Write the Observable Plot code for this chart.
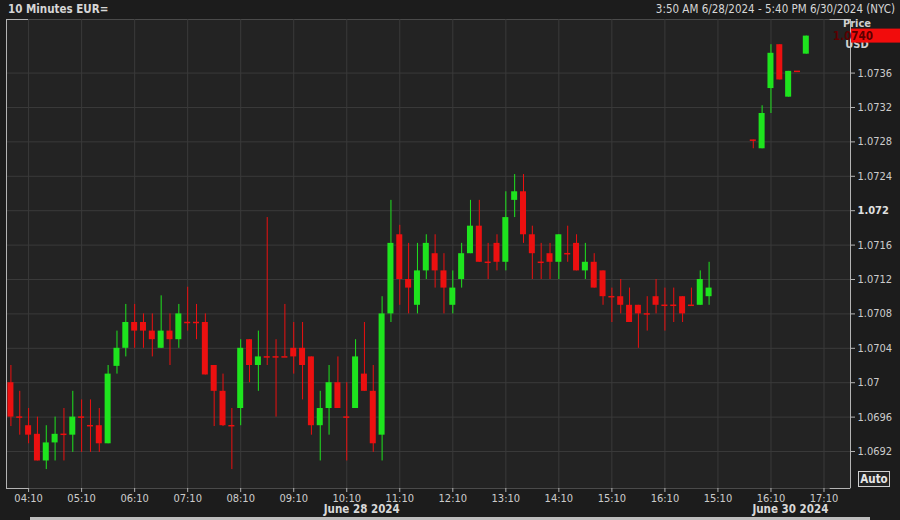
<!DOCTYPE html>
<html><head><meta charset="utf-8">
<script src="https://cdn.jsdelivr.net/npm/d3@7"></script>
<script src="https://cdn.jsdelivr.net/npm/@observablehq/plot@0.6"></script>
<style>
html,body{margin:0;padding:0;background:#1c1c1c;}
#wrap{position:relative;width:900px;height:520px;overflow:hidden;font-family:"DejaVu Sans Condensed","DejaVu Sans",sans-serif;}
#hdr{height:18px;position:relative;color:#d6d6d6;font-size:11.5px;}
#title{position:absolute;left:8px;top:2px;font-weight:bold;}
#range{position:absolute;right:5px;top:2px;}
#chart svg{display:block;}
#scroll{position:absolute;left:30px;bottom:0;width:840px;height:3px;background:#bdbdbd;}
</style></head>
<body><div id="wrap"><div id="hdr"><span id="title">10 Minutes EUR=</span><span id="range">3:50 AM 6/28/2024 - 5:40 PM 6/30/2024 (NYC)</span></div><div id="chart"></div><div id="scroll"></div></div>
<script>
// 10-minute slot index (0 = 03:50 June 28; slot 80 = 15:10 June 30)
const slot = [0,1,2,3,4,5,6,7,8,9,10,11,12,13,14,15,16,17,18,19,20,21,22,23,24,25,26,27,28,29,30,31,32,33,34,35,36,37,38,39,40,41,42,43,44,45,46,47,48,49,50,51,52,53,54,55,56,57,58,59,60,61,62,63,64,65,66,67,68,69,70,71,72,73,74,75,76,77,78,79,84,85,86,87,88,89,90];
const open = [1.0700,1.0696,1.0695,1.0694,1.06909,1.0693,1.0694,1.06939,1.0696,1.0695,1.0695,1.06929,1.07019,1.0704,1.0707,1.0707,1.0706,1.0704,1.0706,1.0705,1.0707,1.0707,1.0707,1.0702,1.0699,1.0695,1.0697,1.0705,1.0702,1.0703,1.0703,1.0703,1.0704,1.0704,1.0703,1.0695,1.0697,1.0700,1.0696,1.0697,1.0701,1.0699,1.06939,1.0708,1.07172,1.0712,1.0709,1.0713,1.0715,1.0713,1.0709,1.0712,1.0715,1.07182,1.0714,1.07162,1.0714,1.07212,1.07222,1.07172,1.0714,1.0715,1.0714,1.0715,1.07162,1.0713,1.0714,1.0713,1.0710,1.0710,1.0709,1.0709,1.0708,1.0710,1.0709,1.0709,1.0710,1.0709,1.0709,1.0710,1.07282,1.07272,1.07342,1.07393,1.07332,1.07362,1.07382];
const high = [1.0702,1.0699,1.0697,1.0696,1.0695,1.0696,1.0697,1.0699,1.0698,1.0698,1.0697,1.0702,1.0706,1.07091,1.07091,1.0708,1.0708,1.07101,1.0708,1.07091,1.07111,1.07091,1.0708,1.0702,1.0701,1.0697,1.0705,1.0705,1.0706,1.07192,1.0705,1.07091,1.0707,1.0707,1.0703,1.0699,1.0702,1.0703,1.0700,1.0705,1.0707,1.0702,1.0710,1.07212,1.07183,1.07162,1.07162,1.07172,1.07172,1.0715,1.0713,1.07162,1.07212,1.07212,1.07162,1.07172,1.07222,1.07242,1.07242,1.07182,1.07162,1.07162,1.07172,1.07182,1.07172,1.07162,1.0715,1.0713,1.0711,1.0712,1.0711,1.0709,1.0710,1.0712,1.0711,1.0711,1.0710,1.0711,1.0713,1.0714,1.07282,1.07322,1.07393,1.07393,1.07362,1.07362,1.07403];
const low = [1.06949,1.06939,1.06929,1.06909,1.06899,1.06909,1.06909,1.06919,1.06919,1.06919,1.06919,1.06929,1.0701,1.0703,1.0704,1.0704,1.0703,1.0704,1.0702,1.0704,1.0706,1.0705,1.07009,1.06949,1.06949,1.06899,1.0695,1.0700,1.0699,1.0702,1.0696,1.0703,1.0701,1.0698,1.06939,1.06909,1.06939,1.0697,1.06909,1.0697,1.0699,1.06919,1.06909,1.0707,1.0709,1.0708,1.0708,1.0712,1.0711,1.0708,1.0708,1.0711,1.0715,1.0714,1.0712,1.0713,1.0713,1.07192,1.07162,1.0712,1.0712,1.0712,1.0712,1.0714,1.0713,1.0712,1.0711,1.0709,1.0707,1.0708,1.0707,1.0704,1.0706,1.0708,1.0706,1.0707,1.0707,1.0709,1.0709,1.0709,1.07272,1.07272,1.07313,1.07352,1.07332,1.07362,1.07382];
const close = [1.0696,1.0696,1.06939,1.06909,1.0693,1.0694,1.0694,1.0696,1.0696,1.0695,1.06929,1.0701,1.0704,1.0707,1.0706,1.0706,1.0705,1.0706,1.0705,1.0708,1.0707,1.0707,1.07009,1.0699,1.0695,1.0695,1.0704,1.0702,1.0703,1.0703,1.0703,1.0703,1.0703,1.0702,1.0695,1.0697,1.0700,1.0697,1.0696,1.0703,1.0699,1.06929,1.0708,1.07162,1.0712,1.0711,1.0713,1.07162,1.0713,1.0711,1.0711,1.0715,1.07182,1.0714,1.0714,1.0714,1.07192,1.07222,1.07172,1.0715,1.0714,1.0714,1.07172,1.0715,1.0713,1.0714,1.0711,1.0710,1.0710,1.0709,1.0707,1.0708,1.0708,1.0709,1.0709,1.0709,1.0708,1.0709,1.0712,1.0711,1.07282,1.07313,1.07383,1.07352,1.07362,1.07362,1.07403];

const xTickSlots = [2,8,14,20,26,32,38,44,50,56,62,68,74,80,86,92];
const xTickLabels = ["04:10","05:10","06:10","07:10","08:10","09:10","10:10","11:10","12:10","13:10","14:10","15:10","16:10","15:10","16:10","17:10"];
const yTicks = [1.0692,1.0696,1.0700,1.0704,1.0708,1.0712,1.0716,1.0720,1.0724,1.0728,1.0732,1.0736];
const boldTick = 1.0720;
const dateLabels = ["June 28 2024","June 30 2024"];
const dateSlots = [39.7,88.2];

const UP = "#1ee41e", DOWN = "#ec1010";
const candles = slot.map((s,k)=>({i:s,o:open[k],h:high[k],l:low[k],c:close[k]}));
const ups = candles.filter(d=>d.c>d.o);
const downs = candles.filter(d=>d.c<d.o);
const dojis = candles.filter(d=>d.c===d.o);
const fmt = v => String(+v.toFixed(4));
const xLab = new Map(xTickSlots.map((s,k)=>[s,xTickLabels[k]]));
const HW = 0.34;

const plot = Plot.plot({
  width: 900, height: 502,
  marginTop: 1, marginBottom: 32, marginLeft: 6, marginRight: 50,
  style: {background:"transparent", color:"#cccccc", fontFamily:'"DejaVu Sans Condensed","DejaVu Sans",sans-serif', fontSize:"11px"},
  x: {type:"linear", domain:[-0.5,95], label:null},
  y: {domain:[1.06877,1.074223], label:null},
  marks: [
    Plot.frame({fill:"#232323", stroke:"#4a4a4a"}),
    Plot.gridX(xTickSlots, {stroke:"#3a3a3a", strokeOpacity:1}),
    Plot.gridY(yTicks, {stroke:"#3a3a3a", strokeOpacity:1}),
    Plot.ruleX([-0.5], {stroke:"#b4b4b4"}),
    Plot.ruleX([95], {stroke:"#b4b4b4"}),
    Plot.ruleY([1.06877], {x1:-0.5, x2:2, stroke:"#b4b4b4"}),
    Plot.ruleY([1.06877], {x1:92.7, x2:95, stroke:"#b4b4b4"}),
    Plot.ruleY([1.074223], {x1:-0.5, x2:2, stroke:"#b4b4b4"}),
    Plot.ruleY([1.074223], {x1:92.7, x2:95, stroke:"#b4b4b4"}),
    Plot.ruleX(ups, {x:"i", y1:"l", y2:"h", stroke:UP}),
    Plot.ruleX(downs.concat(dojis), {x:"i", y1:"l", y2:"h", stroke:DOWN}),
    Plot.rect(ups, {x1:d=>d.i-HW, x2:d=>d.i+HW, y1:"o", y2:"c", fill:UP}),
    Plot.rect(downs, {x1:d=>d.i-HW, x2:d=>d.i+HW, y1:"o", y2:"c", fill:DOWN}),
    Plot.ruleY(dojis, {y:"c", x1:d=>d.i-HW, x2:d=>d.i+HW, stroke:DOWN, strokeWidth:1.5}),
    Plot.axisX(xTickSlots, {anchor:"bottom", label:null, tickSize:4, tickPadding:2, stroke:"#b4b4b4", fill:"#cccccc", tickFormat:s=>xLab.get(s)}),
    Plot.text(dateLabels, {x:(d,k)=>dateSlots[k], frameAnchor:"bottom", dy:24, text:d=>d, fill:"#d8d8d8", fontWeight:"bold", fontSize:11.5}),
    Plot.axisY(yTicks.filter(v=>v!==boldTick), {anchor:"right", label:null, tickSize:4, tickPadding:3, stroke:"#b4b4b4", fill:"#cccccc", tickFormat:fmt, textAnchor:"start"}),
    Plot.axisY([boldTick], {anchor:"right", label:null, tickSize:4, tickPadding:3, stroke:"#b4b4b4", fill:"#e0e0e0", fontWeight:"bold", tickFormat:fmt, textAnchor:"start"})
  ]
});
document.getElementById("chart").appendChild(plot);

// overlays on the right axis: Price / USD header, last-price tag, Auto button
const svg = d3.select(plot);
const ys = plot.scale("y");
const last = close[close.length-1];
const yl = ys.apply(last);
const xr = 850;
svg.append("text").attr("x",xr+7).attr("y",yl-9).attr("fill","#d0d0d0").attr("font-weight","bold").attr("font-size",11).text("Price");
svg.append("text").attr("x",xr+7).attr("y",yl+12).attr("fill","#d0d0d0").attr("font-weight","bold").attr("font-size",11).text("USD");
svg.append("rect").attr("x",xr+1).attr("y",yl-7).attr("width",900-xr).attr("height",14).attr("fill","#f20c0c");
svg.append("text").attr("x",xr+3).attr("y",yl+4.5).attr("fill","#5a0000").attr("font-weight","bold").attr("font-size",11.5).text(last.toFixed(4));
const yb = ys.apply(1.06877);
svg.append("rect").attr("x",858.5).attr("y",yb-16.5).attr("width",31).attr("height",15).attr("fill","#222").attr("stroke","#d0d0d0");
svg.append("text").attr("x",874).attr("y",yb-5).attr("text-anchor","middle").attr("fill","#e6e6e6").attr("font-weight","bold").attr("font-size",11.5).text("Auto");
</script>
</body></html>
